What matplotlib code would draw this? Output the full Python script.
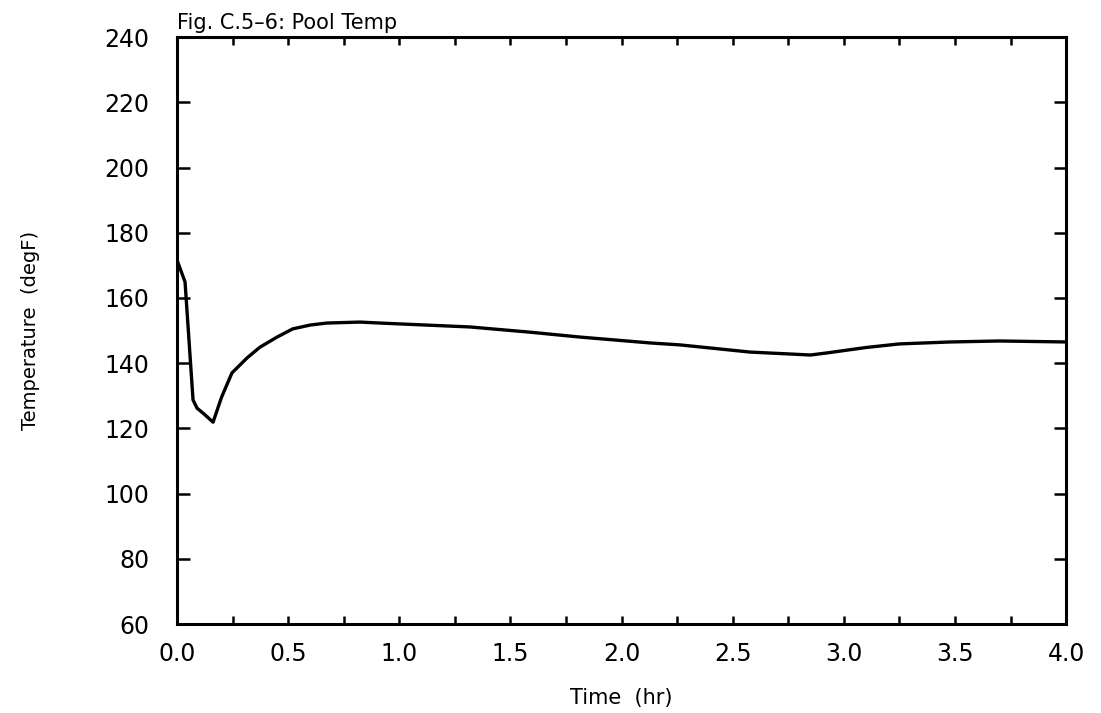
import matplotlib.pyplot as plt
from matplotlib.ticker import MultipleLocator

# Pool temperature vs time
time_hr = [0.0, 0.036, 0.072, 0.09, 0.12, 0.162, 0.2, 0.247, 0.315, 0.373,
           0.45, 0.52, 0.6, 0.674, 0.823, 0.913, 1.318, 1.588, 1.813, 2.128,
           2.263, 2.578, 2.85, 2.92, 3.1, 3.25, 3.48, 3.70, 4.0]
temp_degf = [171.6, 164.9, 128.7, 126.2, 124.5, 121.9, 129.5, 137.0, 141.6, 144.9,
             148.0, 150.5, 151.7, 152.3, 152.6, 152.3, 151.1, 149.5, 148.0, 146.2,
             145.6, 143.4, 142.5, 143.1, 144.8, 145.9, 146.5, 146.8, 146.5]

x_ticks = [0.0, 0.5, 1.0, 1.5, 2.0, 2.5, 3.0, 3.5, 4.0]
y_ticks = [60, 80, 100, 120, 140, 160, 180, 200, 220, 240]


def main():
    fig = plt.figure(figsize=(11.01, 7.13), dpi=100)
    ax = fig.add_axes([0.1608, 0.1248, 0.8075, 0.8232])

    ax.plot(time_hr, temp_degf, color="black", linewidth=2.4)

    ax.set_xlim(0, 4)
    ax.set_ylim(60, 240)
    ax.set_xticks(x_ticks)
    ax.set_xticklabels([f"{v:.1f}" for v in x_ticks])
    ax.xaxis.set_minor_locator(MultipleLocator(0.25))
    ax.set_yticks(y_ticks)
    ax.set_yticklabels([str(v) for v in y_ticks])

    ax.tick_params(axis="x", which="both", direction="in", top=True,
                   length=6, width=1.8, labelsize=17, pad=13)
    ax.tick_params(axis="y", which="both", direction="in", right=True,
                   length=9, width=1.8, labelsize=17, pad=20)
    for spine in ax.spines.values():
        spine.set_linewidth(2.2)

    ax.set_title("Fig. C.5\u20136: Pool Temp", loc="left", fontsize=15, pad=6)
    ax.set_xlabel("Time  (hr)", fontsize=15, labelpad=16)
    ax.set_ylabel("Temperature  (degF)", fontsize=14, labelpad=46)

    fig.savefig("out.png", dpi=100)


if __name__ == "__main__":
    main()
